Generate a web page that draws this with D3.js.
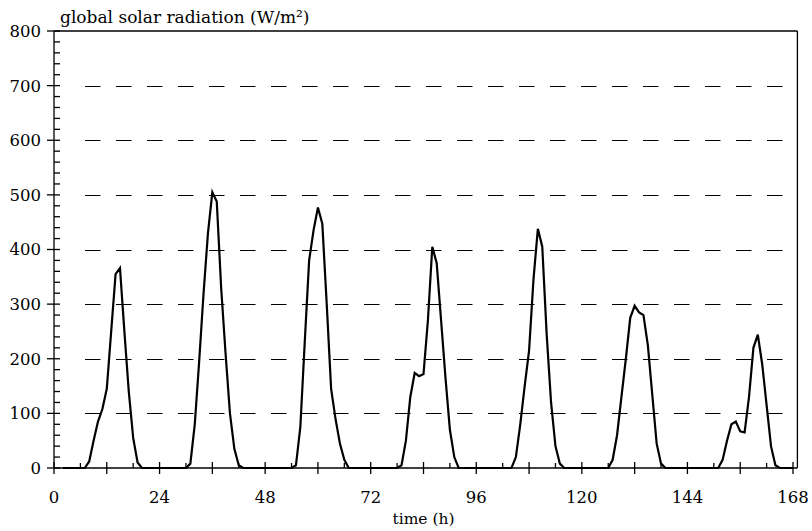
<!DOCTYPE html>
<html>
<head>
<meta charset="utf-8">
<script src="https://cdn.jsdelivr.net/npm/d3@7"></script>
<style>
  html, body { margin: 0; padding: 0; background: #fff; }
  svg { display: block; }
  text { font-family: "DejaVu Serif", serif; fill: #000; }
</style>
</head>
<body>
<svg id="chart" width="812" height="531"></svg>
<script>
// ---- data ----
const startHour = 2;
// hourly global solar radiation (W/m²), hours 2 .. 168
const radiation = [
  0, 0, 0, 0, 0,                                                   // h2-h6
  0, 12, 50, 85, 108, 145, 250, 355, 366, 250, 140, 55, 10, 0,     // h7-h20
  0, 0, 0, 0, 0, 0, 0, 0, 0, 0,                                    // h21-h30
  8, 80, 195, 320, 430, 505, 488, 330, 210, 100, 35, 5, 0,         // h31-h43
  0, 0, 0, 0, 0, 0, 0, 0, 0, 0, 0,                                 // h44-h54
  5, 75, 230, 380, 435, 477, 447, 300, 145, 90, 45, 15, 0,         // h55-h67
  0, 0, 0, 0, 0, 0, 0, 0, 0, 0, 0,                                 // h68-h78
  5, 50, 130, 174, 168, 172, 270, 405, 375, 270, 165, 70, 20, 0,   // h79-h92
  0, 0, 0, 0, 0, 0, 0, 0, 0, 0, 0, 0,                              // h93-h104
  20, 80, 150, 215, 345, 438, 405, 245, 120, 40, 8, 0,             // h105-h116
  0, 0, 0, 0, 0, 0, 0, 0, 0, 0,                                    // h117-h126
  15, 60, 130, 200, 275, 297, 285, 280, 225, 135, 45, 8, 0,        // h127-h139
  0, 0, 0, 0, 0, 0, 0, 0, 0, 0, 0, 0,                              // h140-h151
  15, 50, 80, 85, 67, 65, 130, 220, 244, 190, 115, 40, 5, 0,       // h152-h165
  0, 0, 0                                                          // h166-h168
];
const xTickLabels = [0, 24, 48, 72, 96, 120, 144, 168];
const xMajorTicks = [0, 12, 24, 36, 48, 60, 72, 84, 96, 108, 120, 132, 144, 156, 168];
const xMinorTicks = [6, 18, 30, 42, 54, 66, 78, 90, 102, 114, 126, 138, 150, 162];
const yTickLabels = [0, 100, 200, 300, 400, 500, 600, 700, 800];
const yGrid = [100, 200, 300, 400, 500, 600, 700];
const yMinorTicks = d3.range(20, 800, 20).filter(v => v % 100 !== 0);

const points = radiation.map((v, i) => ({ h: startHour + i, v }));

// ---- layout ----
const svg = d3.select("#chart");
const x = d3.scaleLinear().domain([0, 168]).range([54, 793]);
const y = d3.scaleLinear().domain([0, 800]).range([468, 31]);
const xRight = x(169);

// dashed grid
svg.append("g").selectAll("line").data(yGrid).join("line")
  .attr("x1", 85).attr("x2", xRight)
  .attr("y1", d => Math.round(y(d)) + 0.5).attr("y2", d => Math.round(y(d)) + 0.5)
  .attr("stroke", "#000").attr("stroke-width", 1)
  .attr("stroke-dasharray", "15.5,15.5");

// frame
const frame = svg.append("g").attr("stroke", "#000").attr("stroke-width", 1.3).attr("fill", "none");
frame.append("line").attr("x1", x(0)).attr("x2", x(0)).attr("y1", y(800)).attr("y2", y(0));
frame.append("line").attr("x1", x(0)).attr("x2", xRight).attr("y1", y(0)).attr("y2", y(0));
frame.append("line").attr("x1", x(0)).attr("x2", xRight).attr("y1", y(800)).attr("y2", y(800));
frame.append("line").attr("x1", xRight).attr("x2", xRight).attr("y1", y(800)).attr("y2", y(0));

// y ticks
frame.selectAll(".ymaj").data(yTickLabels).join("line")
  .attr("x1", x(0) - 7).attr("x2", x(0) + 6)
  .attr("y1", d => y(d)).attr("y2", d => y(d));
frame.selectAll(".ymin").data(yMinorTicks).join("line")
  .attr("x1", x(0)).attr("x2", x(0) + 6)
  .attr("y1", d => y(d)).attr("y2", d => y(d));
// x ticks
frame.selectAll(".xmaj").data(xMajorTicks).join("line")
  .attr("x1", d => x(d)).attr("x2", d => x(d))
  .attr("y1", y(0) - 6).attr("y2", y(0) + 6);
frame.selectAll(".xmin").data(xMinorTicks).join("line")
  .attr("x1", d => x(d)).attr("x2", d => x(d))
  .attr("y1", y(0) - 5).attr("y2", y(0));

// labels
svg.append("g").selectAll("text").data(yTickLabels).join("text")
  .attr("x", 41).attr("y", d => y(d)).attr("dy", "0.36em")
  .attr("text-anchor", "end").attr("font-size", 16.5)
  .text(d => d);
svg.append("g").selectAll("text").data(xTickLabels).join("text")
  .attr("x", d => x(d)).attr("y", 503)
  .attr("text-anchor", "middle").attr("font-size", 16.5)
  .text(d => d);
svg.append("text").attr("x", 60).attr("y", 23).attr("font-size", 17)
  .text("global solar radiation (W/m²)");
svg.append("text").attr("x", x(84)).attr("y", 524).attr("text-anchor", "middle")
  .attr("font-size", 15.5).text("time (h)");

// series
svg.append("path").datum(points)
  .attr("fill", "none").attr("stroke", "#000").attr("stroke-width", 2.2)
  .attr("stroke-linejoin", "miter")
  .attr("d", d3.line().x(d => x(d.h)).y(d => y(d.v)));
</script>
</body>
</html>
